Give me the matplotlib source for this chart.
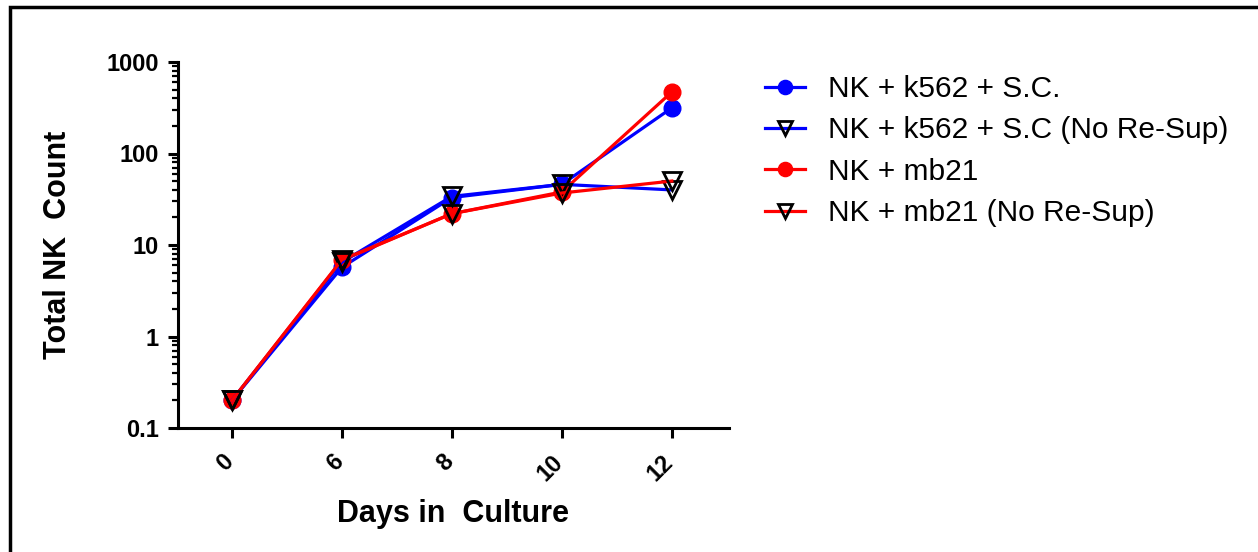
import matplotlib
matplotlib.use("Agg")
import matplotlib.pyplot as plt
from matplotlib.patches import Rectangle
from matplotlib.transforms import ScaledTranslation
from matplotlib.ticker import LogLocator, NullFormatter, FixedLocator

DAYS = ["0", "6", "8", "10", "12"]

K562_SC = [0.2, 5.7, 33, 46, 315]
K562_SC_NO_RESUP = [0.2, 6.5, 34, 46, 40]
MB21 = [0.2, 6.8, 22, 38, 470]
MB21_NO_RESUP = [0.2, 6.9, 22, 37, 50]

BLUE = "#0000ff"
RED = "#ff0000"
INK = "#000000"

plt.rcParams["font.family"] = ["Liberation Sans", "DejaVu Sans"]

fig = plt.figure(figsize=(12.58, 5.52), dpi=100)
fig.patch.set_facecolor("white")
ax = fig.add_axes([178 / 1258, 124 / 552, 551 / 1258, 366 / 552])

x = list(range(len(DAYS)))
lw = 2.3
ax.plot(x, K562_SC, color=BLUE, lw=lw, marker="o", ms=12,
        mfc=BLUE, mec=BLUE, label="NK + k562 + S.C.", zorder=3)
ax.plot(x, K562_SC_NO_RESUP, color=BLUE, lw=lw, marker="v", ms=12.5,
        mfc="none", mec=INK, mew=2.0, label="NK + k562 + S.C (No Re-Sup)", zorder=4)
ax.plot(x, MB21, color=RED, lw=lw, marker="o", ms=12,
        mfc=RED, mec=RED, label="NK + mb21", zorder=3)
ax.plot(x, MB21_NO_RESUP, color=RED, lw=lw, marker="v", ms=12.5,
        mfc="none", mec=INK, mew=2.0, label="NK + mb21 (No Re-Sup)", zorder=4)

ax.set_yscale("log")
ax.set_ylim(0.1, 1000)
ax.set_xlim(-0.49, 4.52)
ax.set_xticks(x)
ax.set_xticklabels(DAYS, rotation=45, ha="right", fontsize=17, fontweight="bold")
ax.yaxis.set_major_locator(FixedLocator([0.1, 1, 10, 100, 1000]))
ax.set_yticklabels(["0.1", "1", "10", "100", "1000"], fontsize=17, fontweight="bold")
ax.yaxis.set_minor_locator(LogLocator(base=10, subs=range(2, 10), numticks=20))
ax.yaxis.set_minor_formatter(NullFormatter())

for side in ("top", "right"):
    ax.spines[side].set_visible(False)
for side in ("left", "bottom"):
    ax.spines[side].set_linewidth(2.2)
ax.tick_params(axis="both", which="major", direction="out", length=7, width=2.2,
               color=INK)
ax.tick_params(axis="y", which="minor", direction="out", length=4.5, width=1.6)
ax.tick_params(axis="x", pad=9)
ax.tick_params(axis="y", pad=7)
# nudge the rotated day labels so they sit under their ticks
shift = ScaledTranslation(0.06, 0, fig.dpi_scale_trans)
for lbl in ax.get_xticklabels():
    lbl.set_transform(lbl.get_transform() + shift)

ax.set_xlabel("Days in  Culture", fontsize=22, fontweight="bold", labelpad=10)
ax.set_ylabel("Total NK  Count", fontsize=22, fontweight="bold", labelpad=24)

fig.legend(loc="upper left", bbox_to_anchor=(765 / 1258, 1 - 75 / 552),
           frameon=False, fontsize=21.5, handlelength=1.35, handletextpad=0.75,
           labelspacing=0.45, borderpad=0, borderaxespad=0, markerscale=0.85)

# outer frame (only the top and left edges fall inside the picture)
fig.add_artist(Rectangle((10 / 1258, -0.1), 1.2, 1.1 - 6.5 / 552,
                         transform=fig.transFigure, fill=False,
                         edgecolor=INK, linewidth=2.5, clip_on=False))

fig.savefig("out.png", dpi=100, facecolor="white")
